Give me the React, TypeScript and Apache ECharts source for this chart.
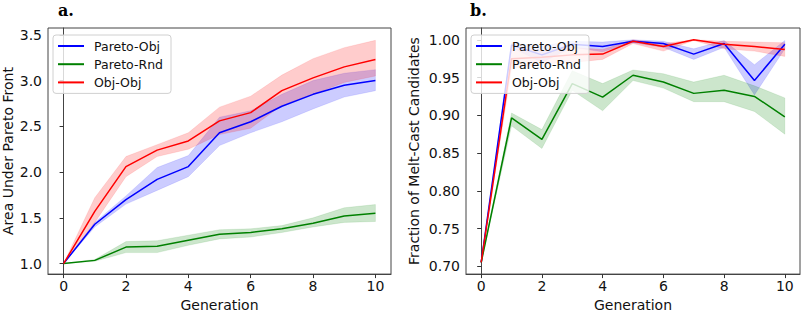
import React, { useEffect, useRef } from "react";
import * as echarts from "echarts";

const gens = [0, 1, 2, 3, 4, 5, 6, 7, 8, 9, 10];
const xTicks = [0, 2, 4, 6, 8, 10];
const yTicksA = [1.0, 1.5, 2.0, 2.5, 3.0, 3.5];
const yTicksB = [0.7, 0.75, 0.8, 0.85, 0.9, 0.95, 1.0];
const seriesNames = ["Pareto-Obj", "Pareto-Rnd", "Obj-Obj"];

// Panel a: Area Under Pareto Front
const paretoObjA = [1.0, 1.43, 1.7, 1.92, 2.06, 2.43, 2.55, 2.72, 2.85, 2.95, 3.0];
const paretoObjALow = [1.0, 1.4, 1.65, 1.8, 1.95, 2.29, 2.43, 2.55, 2.69, 2.82, 2.89];
const paretoObjAHigh = [1.0, 1.45, 1.74, 2.05, 2.18, 2.6, 2.67, 2.85, 3.0, 3.08, 3.12];
const paretoRndA = [1.0, 1.035, 1.18, 1.19, 1.255, 1.32, 1.34, 1.38, 1.44, 1.52, 1.55];
const paretoRndALow = [1.0, 1.025, 1.12, 1.12, 1.2, 1.27, 1.29, 1.34, 1.4, 1.45, 1.46];
const paretoRndAHigh = [1.0, 1.045, 1.24, 1.25, 1.31, 1.37, 1.38, 1.415, 1.5, 1.61, 1.645];
const objObjA = [1.0, 1.57, 2.06, 2.24, 2.34, 2.56, 2.65, 2.89, 3.03, 3.15, 3.23];
const objObjALow = [1.0, 1.45, 1.95, 2.17, 2.25, 2.41, 2.48, 2.73, 2.85, 2.98, 3.05];
const objObjAHigh = [1.0, 1.72, 2.17, 2.3, 2.43, 2.71, 2.83, 3.06, 3.24, 3.36, 3.44];

// Panel b: Fraction of Melt-Cast Candidates
const paretoObjB = [0.705, 0.993, 0.98, 0.994, 0.991, 0.998, 0.995, 0.981, 0.995, 0.946, 0.994];
const paretoObjBLow = [0.705, 0.99, 0.97, 0.99, 0.984, 0.996, 0.99, 0.974, 0.99, 0.927, 0.988];
const paretoObjBHigh = [0.705, 0.996, 0.992, 0.998, 0.997, 1.0, 0.998, 0.988, 0.999, 0.967, 0.999];
const paretoRndB = [0.705, 0.8965, 0.868, 0.942, 0.924, 0.953, 0.944, 0.929, 0.933, 0.925, 0.898];
const paretoRndBLow = [0.705, 0.886, 0.856, 0.933, 0.906, 0.946, 0.936, 0.918, 0.918, 0.905, 0.875];
const paretoRndBHigh = [0.705, 0.903, 0.881, 0.959, 0.942, 0.96, 0.955, 0.944, 0.953, 0.939, 0.923];
const objObjB = [0.705, 0.975, 0.977, 0.98, 0.981, 0.998, 0.991, 1.0, 0.994, 0.991, 0.987];
const objObjBLow = [0.705, 0.962, 0.968, 0.97, 0.974, 0.995, 0.985, 0.999, 0.988, 0.985, 0.978];
const objObjBHigh = [0.705, 0.988, 0.986, 0.99, 0.987, 1.0, 0.995, 1.0, 0.998, 0.997, 0.996];

const colors = ["#0000ff", "#008000", "#ff0000"];
const bandColors = ["rgba(0,0,255,0.2)", "rgba(0,128,0,0.2)", "rgba(255,0,0,0.2)"];
const FONT = "DejaVu Sans";

function lineSeries(name: string, vals: number[], color: string, axis: number) {
  return {
    name,
    type: "line",
    xAxisIndex: axis,
    yAxisIndex: axis,
    data: gens.map((g, i) => [g, vals[i]]),
    showSymbol: false,
    symbol: "none",
    lineStyle: { color, width: 1.5 },
    itemStyle: { color },
    z: 5,
  };
}

function bandSeries(id: string, low: number[], high: number[], color: string, axis: number) {
  return {
    name: id,
    type: "custom",
    xAxisIndex: axis,
    yAxisIndex: axis,
    data: gens.map((g, i) => [g, low[i], high[i]]),
    encode: { x: 0, y: [1, 2] },
    z: 3,
    silent: true,
    renderItem: (params: any, api: any) => {
      if (params.dataIndex !== 0) return null;
      const pts: number[][] = [];
      for (let i = 0; i < gens.length; i++) pts.push(api.coord([gens[i], high[i]]));
      for (let i = gens.length - 1; i >= 0; i--) pts.push(api.coord([gens[i], low[i]]));
      return {
        type: "polygon",
        shape: { points: pts },
        style: { fill: color, stroke: color, lineWidth: 0.5 },
      };
    },
  };
}

function makeLegend(left: number) {
  return {
    data: seriesNames,
    orient: "vertical",
    left,
    top: 35,
    icon: "rect",
    itemWidth: 26,
    itemHeight: 2,
    itemGap: 4.2,
    padding: [4, 8, 4, 5],
    backgroundColor: "rgba(255,255,255,0.8)",
    borderColor: "#d0d0d0",
    borderWidth: 1,
    borderRadius: 3,
    z: 20,
    selectedMode: false,
    textStyle: { fontFamily: FONT, fontSize: 12.5, color: "#111", lineHeight: 14, padding: [0, 0, 0, 5] },
  };
}

function xAxis(idx: number) {
  return {
    gridIndex: idx,
    type: "value",
    min: -0.5,
    max: 10.5,
    axisLine: { show: true, lineStyle: { color: "#444", width: 1 } },
    axisTick: { show: true, length: 4, customValues: xTicks, lineStyle: { color: "#333" } },
    splitLine: { show: false },
    axisLabel: { customValues: xTicks, margin: 5, fontSize: 14, color: "#111", fontFamily: FONT },
    name: "Generation",
    nameLocation: "middle",
    nameGap: 15,
    nameTextStyle: { fontSize: 14, color: "#111", fontFamily: FONT, verticalAlign: "top" },
  };
}

function yAxis(idx: number, min: number, max: number, ticks: number[], dec: number, name: string, gap: number) {
  return {
    gridIndex: idx,
    type: "value",
    min,
    max,
    axisLine: { show: true, lineStyle: { color: "#444", width: 1 } },
    axisTick: { show: true, length: 4, customValues: ticks, lineStyle: { color: "#333" } },
    splitLine: { show: false },
    axisLabel: {
      customValues: ticks,
      margin: 6,
      fontSize: 14,
      color: "#111",
      fontFamily: FONT,
      formatter: (v: number) => v.toFixed(dec),
    },
    name,
    nameLocation: "middle",
    nameGap: gap,
    nameTextStyle: { fontSize: 14, color: "#111", fontFamily: FONT },
  };
}

export default function App() {
  const ref = useRef<HTMLDivElement>(null);
  useEffect(() => {
    if (!ref.current) return;
    const chart = echarts.init(ref.current, undefined, { renderer: "svg" });
    const option: any = {
      animation: false,
      backgroundColor: "#ffffff",
      textStyle: { fontFamily: FONT },
      grid: [
        { left: 48, top: 28, width: 343, height: 251, show: true, borderColor: "#444", borderWidth: 1, backgroundColor: "transparent" },
        { left: 466, top: 28, width: 334, height: 252, show: true, borderColor: "#444", borderWidth: 1, backgroundColor: "transparent" },
      ],
      legend: [makeLegend(53), makeLegend(471)],
      xAxis: [xAxis(0), xAxis(1)],
      yAxis: [
        yAxis(0, 0.885, 3.575, yTicksA, 1, "Area Under Pareto Front", 33),
        yAxis(1, 0.6896, 1.0156, yTicksB, 2, "Fraction of Melt-Cast Candidates", 45),
      ],
      graphic: [
        { type: "text", x: 58, y: 2, style: { text: "a.", font: "bold 16px 'DejaVu Serif'", fill: "#000", verticalAlign: "top" } },
        { type: "text", x: 470, y: 2, style: { text: "b.", font: "bold 16px 'DejaVu Serif'", fill: "#000", verticalAlign: "top" } },
      ],
      series: [
        bandSeries("band-a-po", paretoObjALow, paretoObjAHigh, bandColors[0], 0),
        bandSeries("band-a-pr", paretoRndALow, paretoRndAHigh, bandColors[1], 0),
        bandSeries("band-a-oo", objObjALow, objObjAHigh, bandColors[2], 0),
        lineSeries(seriesNames[0], paretoObjA, colors[0], 0),
        lineSeries(seriesNames[1], paretoRndA, colors[1], 0),
        lineSeries(seriesNames[2], objObjA, colors[2], 0),
        bandSeries("band-b-po", paretoObjBLow, paretoObjBHigh, bandColors[0], 1),
        bandSeries("band-b-pr", paretoRndBLow, paretoRndBHigh, bandColors[1], 1),
        bandSeries("band-b-oo", objObjBLow, objObjBHigh, bandColors[2], 1),
        lineSeries(seriesNames[0], paretoObjB, colors[0], 1),
        lineSeries(seriesNames[1], paretoRndB, colors[1], 1),
        lineSeries(seriesNames[2], objObjB, colors[2], 1),
      ],
    };
    chart.setOption(option);
    return () => chart.dispose();
  }, []);
  return <div ref={ref} style={{ position: "fixed", left: 0, top: 0, width: 803, height: 317 }} />;
}
